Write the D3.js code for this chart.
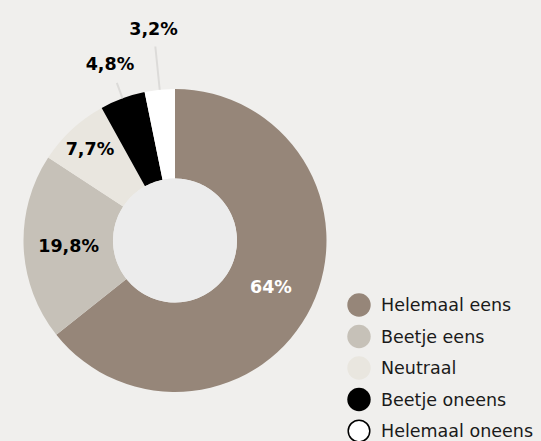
<!DOCTYPE html>
<html>
<head>
<meta charset="utf-8">
<script src="https://cdn.jsdelivr.net/npm/d3@7"></script>
<style>
  html, body { margin: 0; padding: 0; background: #f0efed; }
  svg { display: block; font-family: "DejaVu Sans", sans-serif; }
</style>
</head>
<body>
<svg id="chart" width="541" height="441"></svg>
<script>
// Categories and values (percent)
const categories = ["Helemaal eens", "Beetje eens", "Neutraal", "Beetje oneens", "Helemaal oneens"];
const values = [64, 19.8, 7.7, 4.8, 3.2];
const labels = ["64%", "19,8%", "7,7%", "4,8%", "3,2%"];

// Styling
const colors = ["#968679", "#c6c1b8", "#e9e6df", "#000000", "#ffffff"];
const labelColors = ["#ffffff", "#000000", "#000000", "#000000", "#000000"];
// label distance from centre, and leader line end (0 = no leader)
const labelRadius = [106.5, 106.5, 125, 188, 213];
const leaderEnd = [0, 0, 0, 168, 195];

const cx = 175, cy = 240.5;
const outerR = 151.5, innerR = 62;

const svg = d3.select("#chart");

const pie = d3.pie().sort(null).value(d => d);
const arcs = pie(values);

const arc = d3.arc().innerRadius(innerR).outerRadius(outerR);

const g = svg.append("g").attr("transform", `translate(${cx},${cy})`);

g.selectAll("path.slice")
  .data(arcs)
  .enter().append("path")
  .attr("class", "slice")
  .attr("d", arc)
  .attr("fill", (d, i) => colors[i]);

// centre hole
g.append("circle").attr("r", innerR).attr("fill", "#ececec");

const mid = d => (d.startAngle + d.endAngle) / 2;
const polar = (a, r) => [Math.sin(a) * r, -Math.cos(a) * r];

// leader lines
g.selectAll("line.leader")
  .data(arcs.filter((d, i) => leaderEnd[i] > 0))
  .enter().append("line")
  .attr("class", "leader")
  .attr("x1", d => polar(mid(d), outerR)[0])
  .attr("y1", d => polar(mid(d), outerR)[1])
  .attr("x2", d => polar(mid(d), leaderEnd[d.index])[0])
  .attr("y2", d => polar(mid(d), leaderEnd[d.index])[1])
  .attr("stroke", "#dcdbd9")
  .attr("stroke-width", 2);

// value labels
g.selectAll("text.value")
  .data(arcs)
  .enter().append("text")
  .attr("class", "value")
  .attr("x", d => polar(mid(d), labelRadius[d.index])[0])
  .attr("y", d => polar(mid(d), labelRadius[d.index])[1])
  .attr("dy", "0.36em")
  .attr("text-anchor", "middle")
  .attr("font-size", 17.5)
  .attr("font-weight", 700)
  .attr("fill", (d, i) => labelColors[i])
  .text((d, i) => labels[i]);

// legend
const legendY = d3.scalePoint().domain(categories).range([305, 431]);

const legend = svg.append("g").attr("class", "legend");
const item = legend.selectAll("g")
  .data(categories)
  .enter().append("g")
  .attr("transform", d => `translate(359,${legendY(d)})`);

item.append("circle")
  .attr("r", (d, i) => i === 4 ? 10.8 : 11.7)
  .attr("fill", (d, i) => colors[i])
  .attr("stroke", (d, i) => i === 4 ? "#000" : "none")
  .attr("stroke-width", 1.5);

item.append("text")
  .attr("x", 22)
  .attr("dy", "0.36em")
  .attr("font-size", 17.5)
  .attr("fill", "#1a1a1a")
  .text(d => d);
</script>
</body>
</html>
